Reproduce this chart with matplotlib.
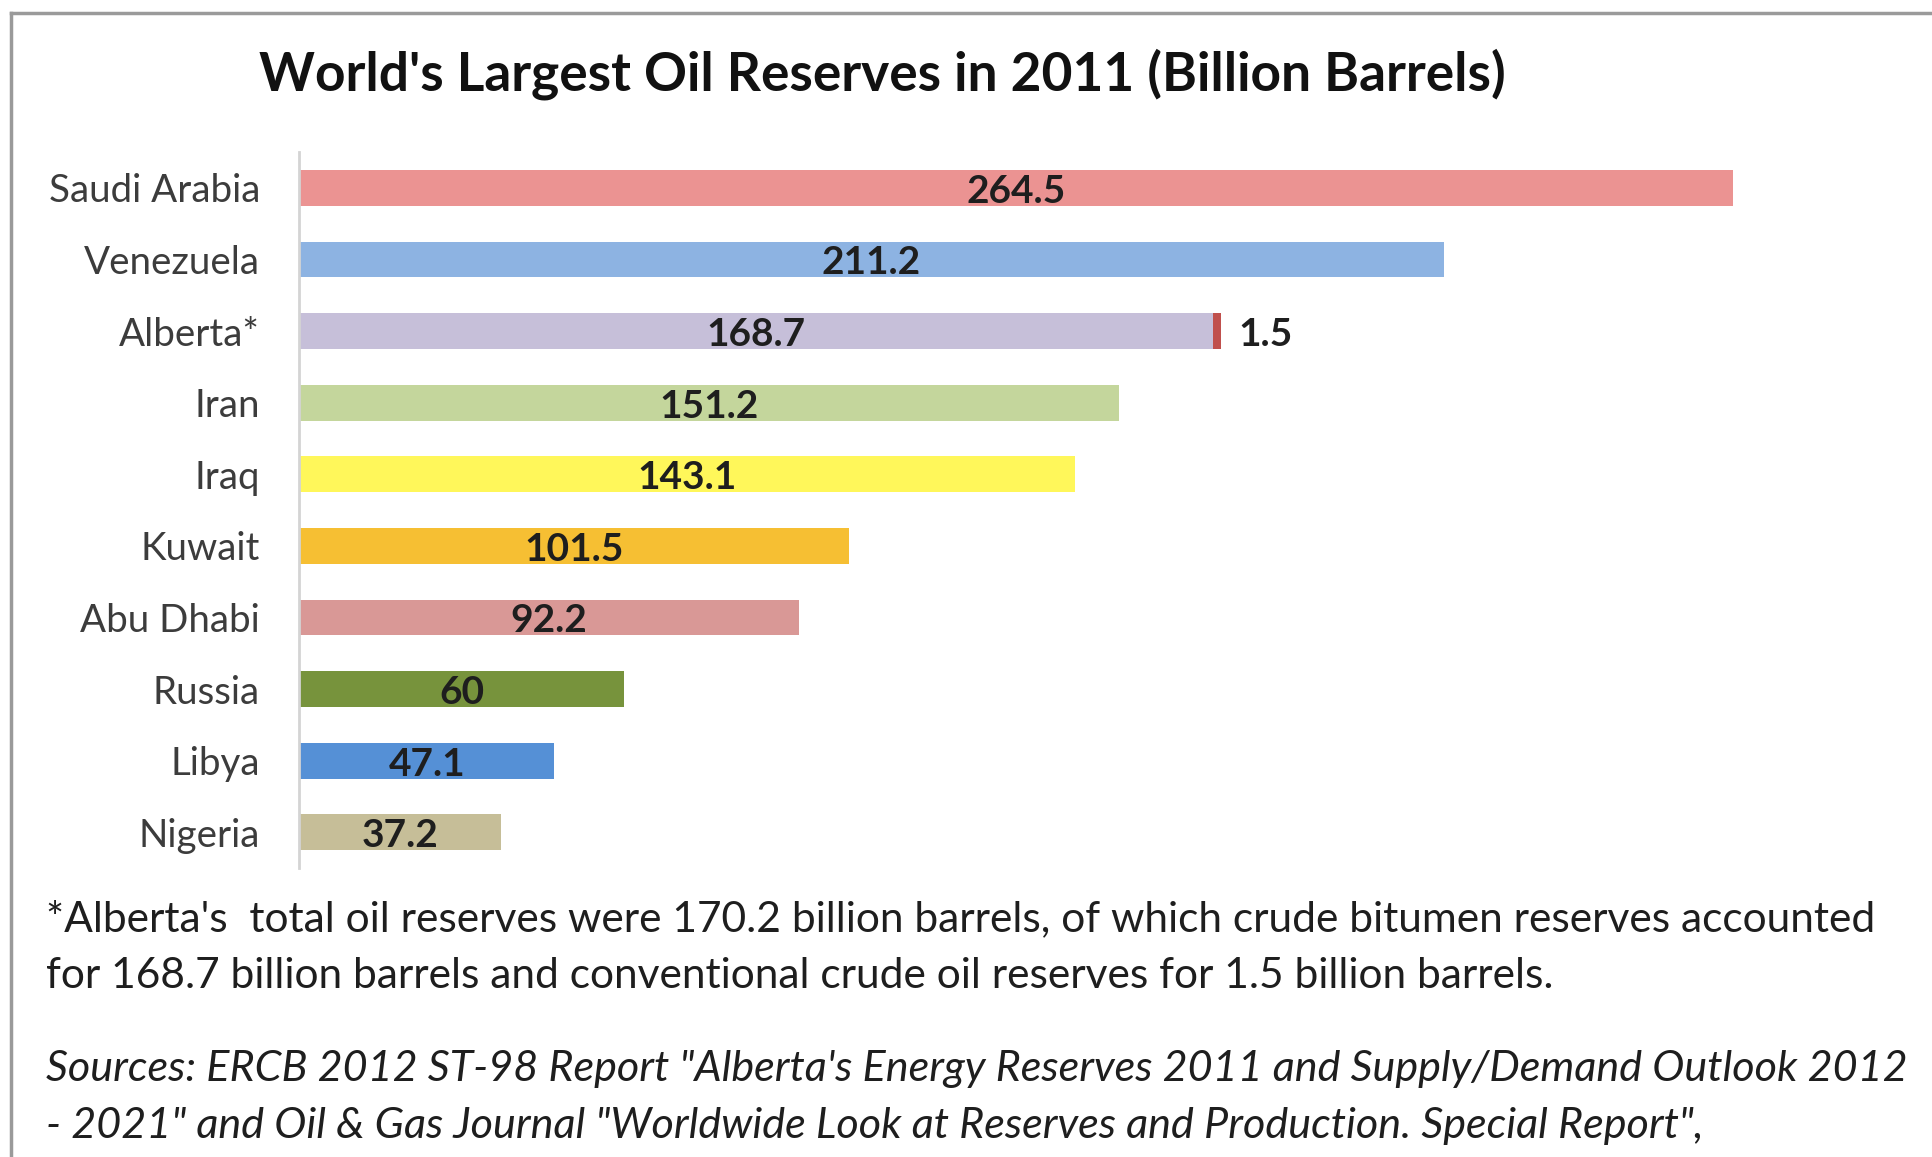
import matplotlib
matplotlib.use("Agg")
import matplotlib.pyplot as plt
from matplotlib.lines import Line2D

countries = ["Saudi Arabia", "Venezuela", "Alberta*", "Iran", "Iraq",
             "Kuwait", "Abu Dhabi", "Russia", "Libya", "Nigeria"]
reserves = [264.5, 211.2, 168.7, 151.2, 143.1, 101.5, 92.2, 60, 47.1, 37.2]
colors = ["#EB9392", "#8DB3E2", "#C6BFD9", "#C4D69C", "#FFF75A",
          "#F6BF33", "#D99896", "#77933C", "#5590D6", "#C6BE98"]
# Alberta's conventional crude sits on top of the bitumen bar
alberta_conv = 1.5
conv_color = "#C0504D"

title = "World's Largest Oil Reserves in 2011 (Billion Barrels)"
note = ["*Alberta's  total oil reserves were 170.2 billion barrels, of which crude bitumen reserves accounted",
        "for 168.7 billion barrels and conventional crude oil reserves for 1.5 billion barrels."]
sources = ["Sources: ERCB 2012 ST-98 Report \"Alberta's Energy Reserves 2011 and Supply/Demand Outlook 2012",
           "- 2021\" and Oil & Gas Journal \"Worldwide Look at Reserves and Production. Special Report\","]

plt.rcParams["font.family"] = ["Lato", "DejaVu Sans"]
W, H = 1932, 1157
fig = plt.figure(figsize=(W / 100, H / 100), dpi=100)
fig.patch.set_facecolor("white")

def fx(px): return px / W
def fy(py): return 1 - py / H

ax = fig.add_axes([fx(299), fy(868), fx(1900) - fx(299), fy(152) - fy(868)])
ypos = list(range(len(countries)))
ax.barh(ypos, reserves, height=0.5, color=colors)
ai = countries.index("Alberta*")
ax.barh(ai, alberta_conv, left=reserves[ai], height=0.5, color=conv_color)

# labels sit a touch below the bar centre
for y, v in zip(ypos, reserves):
    ax.text(v / 2, y + 0.05, f"{v:g}", ha="center", va="center", fontsize=28,
            fontweight="bold", color="#1e1e1e")
ax.annotate(f"{alberta_conv:g}", (reserves[ai] + alberta_conv, ai + 0.05), xytext=(12, 0),
            textcoords="offset points", ha="left", va="center", fontsize=28,
            fontweight="bold", color="#1e1e1e")

ax.set_xlim(0, (1900 - 299) / 5.42)
ax.set_ylim(len(countries) - 0.5, -0.5)
ax.set_yticks(ypos, countries, fontsize=27.7, color="#3c3c3c")
ax.tick_params(axis="y", length=0, pad=28)
ax.set_xticks([])
for s in ["top", "right", "bottom"]:
    ax.spines[s].set_visible(False)
ax.spines["left"].set_color("#d4d4d4")
ax.spines["left"].set_linewidth(2)

fig.text(fx(882), fy(74), title, ha="center", va="center", fontsize=38.3,
         fontweight="bold", color="#111111")
for i, line in enumerate(note):
    fig.text(fx(46), fy(919 + 57 * i), line, ha="left", va="center",
             fontsize=30.6, color="#1e1e1e")
for i, line in enumerate(sources):
    fig.text(fx(46), fy(1069 + 57 * i), line, ha="left", va="center",
             fontsize=31.1, style="italic", color="#1e1e1e")

# grey frame along the top and left edges
fig.add_artist(Line2D([fx(11), 1], [fy(13), fy(13)], color="#9a9a9a", lw=2.5,
                      transform=fig.transFigure))
fig.add_artist(Line2D([fx(11), fx(11)], [fy(13), 0], color="#9a9a9a", lw=2.5,
                      transform=fig.transFigure))

fig.savefig("out.png", dpi=100)
